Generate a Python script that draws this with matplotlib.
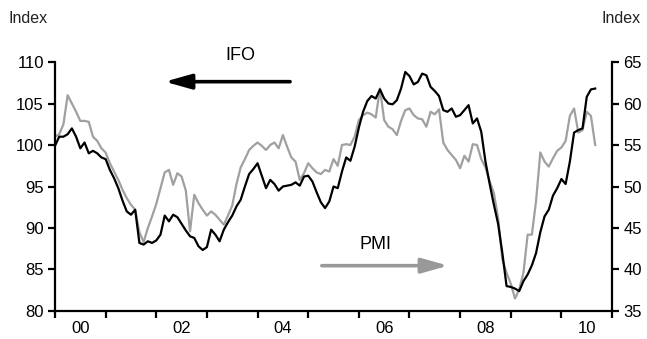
import numpy as np
import matplotlib
matplotlib.use("Agg")
import matplotlib.pyplot as plt
from matplotlib.ticker import FixedLocator, NullFormatter, FixedFormatter

plt.rcParams['font.family'] = ['Liberation Sans Narrow', 'Liberation Sans', 'DejaVu Sans']

start_year = 2000
ifo = [99.9, 101.0, 101.0, 101.3, 102.0, 101.0, 99.6, 100.3, 99.0, 99.3, 99.0, 98.5,
       98.3, 97.0, 96.0, 94.8, 93.3, 92.0, 91.6, 92.2, 88.2, 88.0, 88.4, 88.2,
       88.5, 89.2, 91.5, 90.8, 91.6, 91.3, 90.5, 89.7, 89.0, 88.8, 87.8, 87.35,
       87.7, 89.8, 89.2, 88.4, 89.8, 90.7, 91.5, 92.6, 93.4, 95.0, 96.5, 97.1,
       97.8, 96.3, 94.8, 95.8, 95.3, 94.5, 95.0, 95.1, 95.2, 95.5, 95.1, 96.2,
       96.3, 95.6, 94.3, 93.1, 92.4, 93.2, 95.0, 94.8, 96.8, 98.5, 98.1, 99.8,
       102.1, 104.0, 105.3, 105.9, 105.6, 106.7, 105.6, 105.0, 104.9, 105.4, 106.8, 108.8,
       108.3, 107.3, 107.6, 108.6, 108.4, 107.0, 106.5, 105.9, 104.2, 104.0, 104.4, 103.4,
       103.6, 104.2, 104.8, 102.6, 103.2, 101.6, 98.0, 95.3, 92.8, 90.5, 87.0, 83.0,
       82.9, 82.7, 82.4, 83.6, 84.4, 85.5, 87.0, 89.5, 91.4, 92.2, 93.9, 94.8,
       95.9, 95.3, 98.0, 101.5, 101.8, 102.0, 105.8, 106.7, 106.8]
pmi = [56.0, 56.3, 57.5, 61.0, 60.0, 59.0, 57.9, 57.9, 57.8, 56.0, 55.5, 54.6,
       54.1, 52.8, 51.8, 50.8, 49.6, 48.6, 47.8, 47.2, 44.5, 43.3, 45.0, 46.4,
       47.9, 49.8, 51.7, 52.0, 50.2, 51.6, 51.2, 49.5, 44.6, 49.0, 48.0, 47.2,
       46.5, 47.0, 46.6, 46.0, 45.4, 46.5, 47.7, 50.3, 52.3, 53.3, 54.4, 54.9,
       55.3, 54.9, 54.4, 55.0, 55.3, 54.6, 56.2, 54.8, 53.5, 53.0, 50.8, 51.6,
       52.8, 52.2, 51.7, 51.5, 52.0, 51.8, 53.3, 52.5, 55.0, 55.1, 55.0, 56.0,
       58.0, 58.6, 58.9, 58.7, 58.3, 61.8, 58.0, 57.2, 56.9, 56.2, 57.9, 59.2,
       59.4, 58.6, 58.2, 58.1, 57.2, 59.0, 58.7, 59.3, 55.3, 54.4, 53.8, 53.2,
       52.2, 53.7, 53.0, 55.1, 55.0, 53.3, 52.3, 50.6, 49.2, 46.2, 41.2, 39.6,
       38.3, 36.5, 37.6, 39.6, 44.2, 44.2, 48.3, 54.1, 53.0, 52.4, 53.4, 54.3,
       54.7, 55.5, 58.5, 59.4, 56.5, 56.8, 59.0, 58.5, 55.0]
left_ticks = [80, 85, 90, 95, 100, 105, 110]
right_ticks = [35, 40, 45, 50, 55, 60, 65]
year_labels = ['00', '02', '04', '06', '08', '10']
label_years = [2000, 2002, 2004, 2006, 2008, 2010]

t = start_year + np.arange(len(ifo)) / 12.0

fig = plt.figure(figsize=(6.47, 3.39), dpi=100)
ax = fig.add_axes([0.085, 0.0826, 0.861, 0.7345])
ax2 = ax.twinx()

ax2.plot(t, pmi, color='#a0a0a0', lw=1.6, zorder=2)
ax.plot(t, ifo, color='black', lw=1.6, zorder=3)
ax.set_zorder(ax2.get_zorder() + 1)
ax.patch.set_visible(False)

ax.set_ylim(80, 110)
ax2.set_ylim(35, 65)
ax.set_xlim(2000, 2011)
ax.set_yticks(left_ticks)
ax2.set_yticks(right_ticks)

ax.xaxis.set_major_locator(FixedLocator(np.arange(2000, 2012)))
ax.xaxis.set_major_formatter(NullFormatter())
ax.xaxis.set_minor_locator(FixedLocator([y + 0.5 for y in label_years]))
ax.xaxis.set_minor_formatter(FixedFormatter(year_labels))

for a in (ax, ax2):
    for s in ['top']:
        a.spines[s].set_visible(False)
    for s in ['left', 'right', 'bottom']:
        a.spines[s].set_linewidth(1.6)
ax.spines['right'].set_visible(False)
ax2.spines['left'].set_visible(False)
ax2.spines['bottom'].set_visible(False)

ax.tick_params(axis='y', direction='out', length=5, width=1.6, labelsize=12, pad=3)
ax2.tick_params(axis='y', direction='out', length=5, width=1.6, labelsize=12, pad=3)
ax.tick_params(axis='x', which='major', direction='out', length=5, width=1.6)
ax.tick_params(axis='x', which='minor', length=0, labelsize=12, pad=7)

fig.text(0.013, 0.945, 'Index', fontsize=11.5, ha='left', va='center', color='#222222')
fig.text(0.99, 0.945, 'Index', fontsize=11.5, ha='right', va='center', color='#222222')

ax.annotate('', xy=(0.197, 0.921), xytext=(0.422, 0.921), xycoords='axes fraction',
            arrowprops=dict(arrowstyle='-|>,head_length=1.6,head_width=0.45', color='black', lw=2.6,
                            shrinkA=0, shrinkB=0))
ax.text(0.332, 1.025, 'IFO', transform=ax.transAxes, fontsize=13, ha='center', va='center')
ax.annotate('', xy=(0.706, 0.182), xytext=(0.479, 0.182), xycoords='axes fraction',
            arrowprops=dict(arrowstyle='-|>,head_length=1.6,head_width=0.45', color='#999999', lw=2.6,
                            shrinkA=0, shrinkB=0))
ax.text(0.575, 0.269, 'PMI', transform=ax.transAxes, fontsize=13, ha='center', va='center')

fig.savefig('out.png', dpi=100)
